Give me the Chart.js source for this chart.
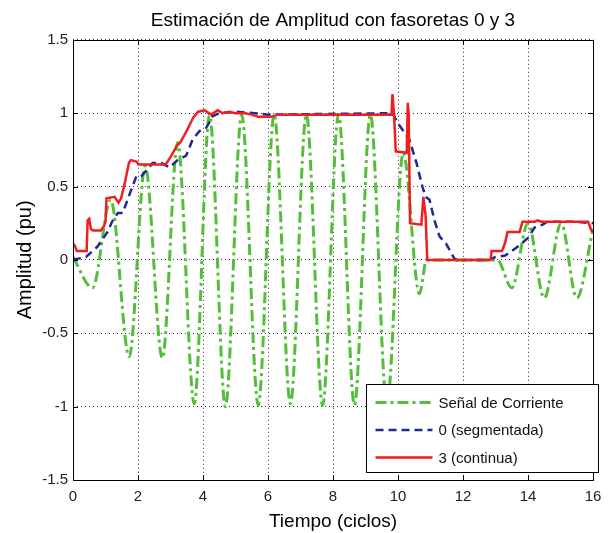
<!DOCTYPE html>
<html>
<head>
<meta charset="utf-8">
<script src="https://cdn.jsdelivr.net/npm/chart.js@4.4.1/dist/chart.umd.min.js"></script>
<style>
  body { margin: 0; background: #fff; }
  canvas { display: block; }
</style>
</head>
<body>
<canvas id="myChart" width="613" height="533"></canvas>
<script>
// values (tiempo in ciclos, amplitud in pu)
const senalT = [0, 0.6, 1.16, 1.73, 2.22, 2.75, 3.22, 3.73, 4.2, 4.69, 5.19, 5.7, 6.19, 6.69, 7.18, 7.68, 8.17, 8.66, 9.15, 9.66, 10.16, 10.66, 10.88, 13.05, 13.5, 14.0, 14.5, 15.02, 15.5, 16.0];
const senalV = [0.02, -0.19, 0.41, -0.66, 0.64, -0.67, 0.8, -0.98, 0.99, -1.0, 0.99, -0.99, 0.99, -0.98, 0.99, -0.99, 0.99, -0.99, 0.99, -0.99, 0.73, -0.23, 0, 0, -0.19, 0.25, -0.26, 0.25, -0.26, 0.21];

const seg0T = [0, 0.4, 0.75, 1.06, 1.2, 1.38, 1.53, 1.68, 1.83, 1.95, 2.1, 2.3, 2.45, 2.72, 2.97, 3.22, 3.48, 3.68, 3.9, 4.1, 4.3, 4.5, 5.0, 5.6, 6.0, 9.83, 10.0, 10.35, 10.57, 10.75, 10.85, 10.97, 11.12, 11.28, 11.48, 11.73, 11.8, 12.8, 13.0, 13.3, 13.5, 13.74, 14.0, 14.2, 14.45, 14.6, 15.5, 16.0];
const seg0V = [0.0, 0.02, 0.09, 0.19, 0.26, 0.32, 0.32, 0.41, 0.5, 0.57, 0.57, 0.62, 0.66, 0.66, 0.63, 0.68, 0.71, 0.82, 0.88, 0.9, 0.98, 1.0, 1.01, 1.0, 0.99, 1.0, 0.93, 0.82, 0.66, 0.5, 0.43, 0.41, 0.27, 0.16, 0.11, 0.01, 0, 0, 0.02, 0.03, 0.06, 0.1, 0.15, 0.22, 0.24, 0.26, 0.26, 0.25];

const cont3T = [0, 0.05, 0.12, 0.42, 0.45, 0.5, 0.55, 0.62, 0.85, 0.95, 1.0, 1.03, 1.28, 1.4, 1.48, 1.6, 1.72, 1.78, 1.95, 2.02, 2.85, 3.0, 3.2, 3.3, 3.5, 3.7, 3.85, 4.05, 4.25, 4.45, 4.6, 4.8, 5.0, 5.3, 5.5, 5.7, 6.1, 6.3, 9.8, 9.83, 9.88, 9.93, 10.27, 10.3, 10.33, 10.37, 10.72, 10.78, 10.85, 10.9, 12.85, 12.88, 13.2, 13.3, 13.37, 13.74, 13.83, 14.2, 14.3, 14.4, 15.85, 15.95, 16.0];
const cont3V = [0.11, 0.1, 0.06, 0.06, 0.27, 0.28, 0.21, 0.2, 0.2, 0.23, 0.26, 0.42, 0.43, 0.39, 0.42, 0.53, 0.66, 0.68, 0.67, 0.65, 0.65, 0.7, 0.78, 0.8, 0.88, 0.97, 1.01, 1.02, 0.99, 1.02, 1.0, 1.01, 1.0, 1.0, 0.99, 0.975, 0.975, 0.99, 0.99, 1.13, 0.99, 0.74, 0.73, 1.07, 0.99, 0.25, 0.24, 0.43, 0.3, 0.0, 0.0, 0.06, 0.06, 0.12, 0.19, 0.19, 0.26, 0.26, 0.27, 0.26, 0.26, 0.2, 0.19];

const xTicks = [0, 2, 4, 6, 8, 10, 12, 14, 16];
const xTickLabels = ['0', '2', '4', '6', '8', '10', '12', '14', '16'];
const yTicks = [-1.5, -1, -0.5, 0, 0.5, 1, 1.5];
const yTickLabels = ['-1.5', '-1', '-0.5', '0', '0.5', '1', '1.5'];

const seriesNames = ['Señal de Corriente', '0 (segmentada)', '3 (continua)'];

const FONT = '"Liberation Sans", Arial, Helvetica, sans-serif';

function pts(t, v) {
  return t.map((x, i) => ({ x: x, y: v[i] }));
}

// MATLAB style: full box, inward ticks, legend box inside the axes
const matlabAxes = {
  id: 'matlabAxes',
  afterDraw: function(chart) {
    const ctx = chart.ctx;
    const a = chart.chartArea;
    const sx = chart.scales.x, sy = chart.scales.y;
    ctx.save();
    ctx.strokeStyle = '#000';
    ctx.lineWidth = 1;
    ctx.setLineDash([]);
    ctx.beginPath();
    xTicks.forEach(function(t) {
      const px = Math.round(sx.getPixelForValue(t)) + 0.5;
      ctx.moveTo(px, a.bottom); ctx.lineTo(px, a.bottom - 5);
      ctx.moveTo(px, a.top); ctx.lineTo(px, a.top + 5);
    });
    yTicks.forEach(function(v) {
      const py = Math.round(sy.getPixelForValue(v)) + 0.5;
      ctx.moveTo(a.left, py); ctx.lineTo(a.left + 5, py);
      ctx.moveTo(a.right, py); ctx.lineTo(a.right - 5, py);
    });
    ctx.stroke();
    ctx.strokeRect(Math.round(a.left) + 0.5, Math.round(a.top) + 0.5, Math.round(a.right - a.left), Math.round(a.bottom - a.top));

    // legend
    const bx = Math.round(a.right) - 226.5, by = Math.round(a.bottom) - 95.5;
    const bw = 232, bh = 88;
    ctx.fillStyle = '#fff';
    ctx.fillRect(bx, by, bw, bh);
    ctx.strokeRect(bx, by, bw, bh);
    ctx.font = '15px ' + FONT;
    ctx.textBaseline = 'middle';
    ctx.textAlign = 'left';
    chart.data.datasets.forEach(function(ds, i) {
      const ry = by + 18 + i * 27.5;
      ctx.save();
      ctx.strokeStyle = ds.borderColor;
      ctx.lineWidth = ds.borderWidth;
      ctx.setLineDash(ds.borderDash || []);
      ctx.beginPath();
      ctx.moveTo(bx + 9, ry); ctx.lineTo(bx + 66, ry);
      ctx.stroke();
      ctx.restore();
      ctx.fillStyle = '#111';
      ctx.fillText(ds.label, bx + 72, ry + 1);
    });
    ctx.restore();
  }
};

myChart = new Chart(document.getElementById('myChart'), {
  type: 'line',
  data: {
    datasets: [{
      label: seriesNames[0],
      data: pts(senalT, senalV),
      borderColor: 'rgb(84, 190, 58)',
      borderWidth: 3,
      borderDash: [11, 4, 3, 4],
      cubicInterpolationMode: 'monotone',
      pointRadius: 0,
      order: 3
    }, {
      label: seriesNames[1],
      data: pts(seg0T, seg0V),
      borderColor: 'rgb(30, 40, 150)',
      borderWidth: 2.5,
      borderDash: [8, 5],
      tension: 0,
      pointRadius: 0,
      order: 2
    }, {
      label: seriesNames[2],
      data: pts(cont3T, cont3V),
      borderColor: 'rgb(240, 30, 30)',
      borderWidth: 2.5,
      tension: 0,
      pointRadius: 0,
      order: 1
    }]
  },
  options: {
    responsive: false,
    animation: false,
    layout: { padding: { left: 0, right: 20, top: 0, bottom: 0 } },
    plugins: {
      legend: { display: false },
      tooltip: { enabled: false },
      title: {
        display: true,
        fullSize: false,
        text: 'Estimación de Amplitud con fasoretas 0 y 3',
        color: '#000',
        font: { family: FONT, size: 19, weight: 'normal' },
        padding: { top: 9, bottom: 8 }
      }
    },
    scales: {
      x: {
        type: 'linear',
        min: 0,
        max: 16,
        afterBuildTicks: function(s) { s.ticks = xTicks.map(v => ({ value: v })); },
        afterFit: function(s) { s.height = 53; },
        ticks: {
          color: '#222', padding: 8, maxRotation: 0, font: { family: FONT, size: 15 },
          callback: function(v) { const i = xTicks.indexOf(v); return i >= 0 ? xTickLabels[i] : ''; }
        },
        grid: { color: '#333', lineWidth: 1, drawTicks: false },
        border: { display: false, dash: [1, 3] },
        title: {
          display: true,
          text: 'Tiempo (ciclos)',
          color: '#000',
          font: { family: FONT, size: 19 },
          padding: { top: 0, bottom: 0 }
        }
      },
      y: {
        type: 'linear',
        min: -1.5,
        max: 1.5,
        afterBuildTicks: function(s) { s.ticks = yTicks.map(v => ({ value: v })); },
        afterFit: function(s) { s.width = 73; },
        ticks: {
          color: '#222', padding: 5, font: { family: FONT, size: 15 },
          callback: function(v) { const i = yTicks.indexOf(v); return i >= 0 ? yTickLabels[i] : ''; }
        },
        grid: { color: '#333', lineWidth: 1, drawTicks: false },
        border: { display: false, dash: [1, 3] },
        title: {
          display: true,
          text: 'Amplitud (pu)',
          color: '#000',
          font: { family: FONT, size: 20 },
          padding: { top: 13, bottom: 0 }
        }
      }
    }
  },
  plugins: [matlabAxes]
});
</script>
</body>
</html>
